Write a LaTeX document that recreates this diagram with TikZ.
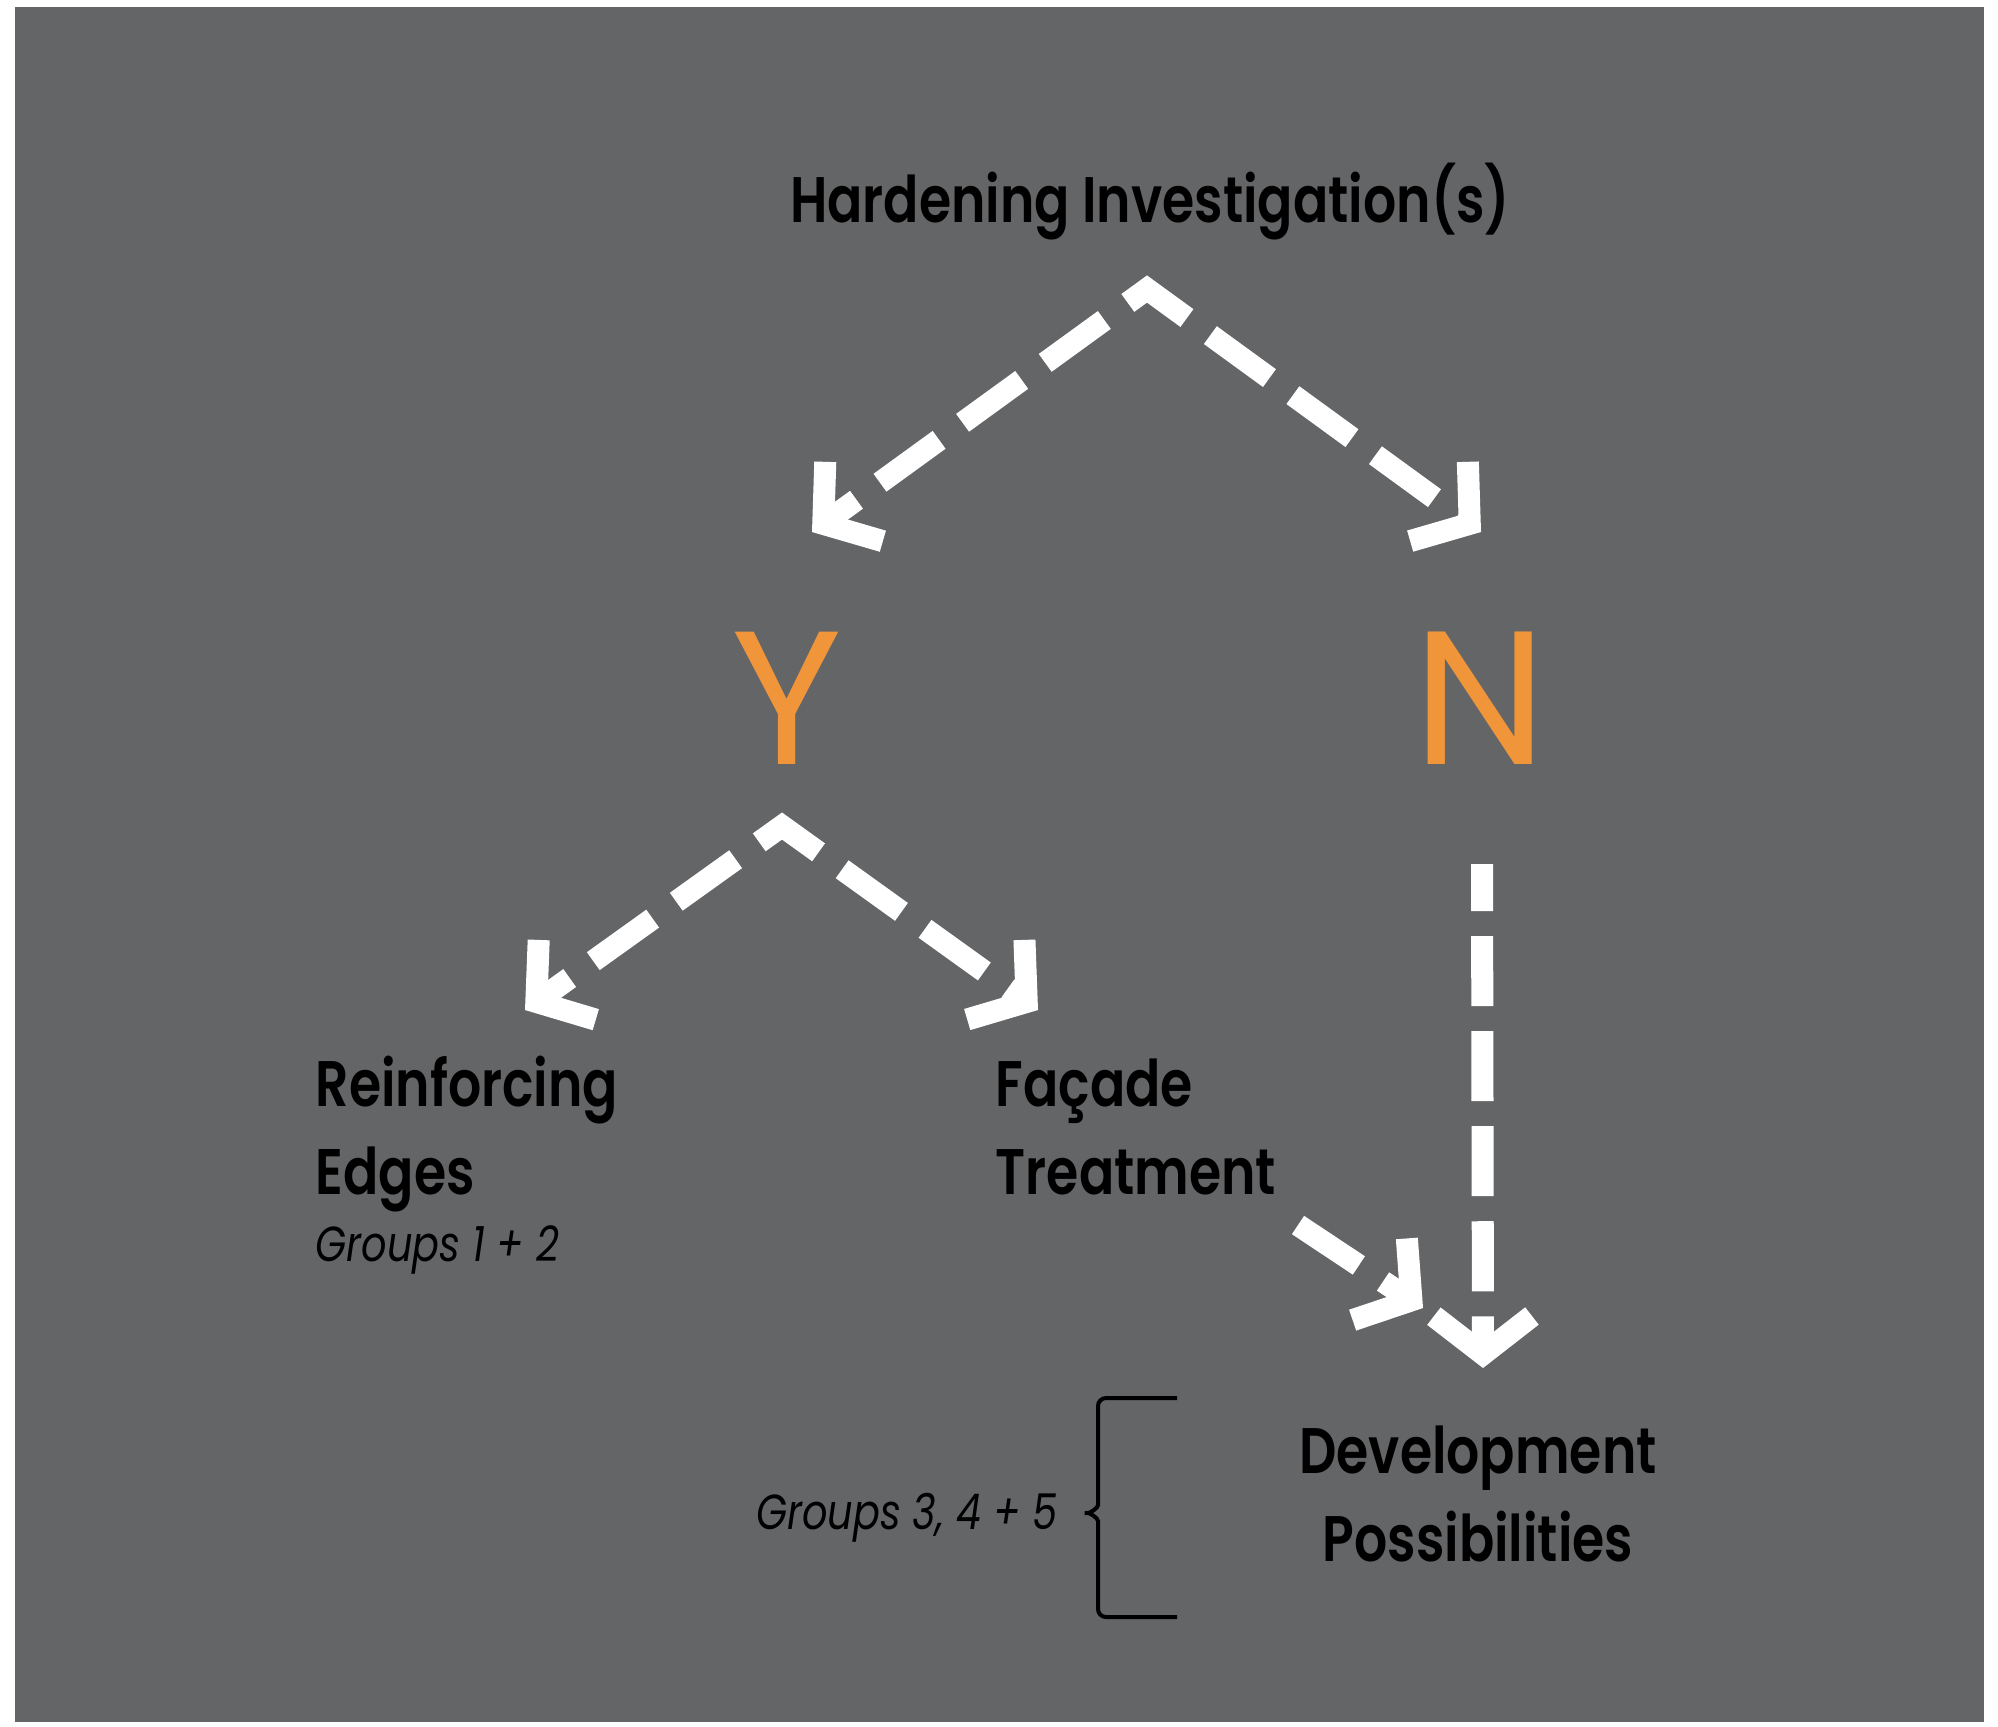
\documentclass[tikz,border=0pt]{standalone}
\usepackage{fontspec}
\setmainfont{Poppins}[FakeStretch=0.81, BoldFont={Poppins SemiBold}]
\newfontfamily\ynfont{Poppins}
\usetikzlibrary{arrows.meta}
\usetikzlibrary{positioning}
\definecolor{slate}{rgb}{0.392, 0.396, 0.404}
\definecolor{ochre}{rgb}{0.941, 0.584, 0.227}
\begin{document}
\begin{tikzpicture}[x=0.01cm,y=-0.01cm,
  lbl/.style={inner sep=0pt, text=black, font=\fontsize{18.3pt}{25pt}\selectfont\bfseries},
  yn/.style={inner sep=0pt, text=ochre, font=\fontsize{54pt}{54pt}\selectfont\ynfont},
  grp/.style={inner sep=0pt, text=black, font=\fontsize{14pt}{16pt}\selectfont\itshape},
  flow/.style={draw=white, line width=0.22cm, line cap=butt, line join=miter,
    dash pattern=on 0.73cm off 0.29cm},
  tipper/.style={-{Straight Barb[length=0.38cm, width=0.98cm]}},
  twotip/.style={{Straight Barb[length=0.38cm, width=0.98cm]}-{Straight Barb[length=0.38cm, width=0.98cm]}},
  brace/.style={draw=black, line width=0.04cm, rounded corners=0.08cm}]
\fill[white] (0,0) rectangle (1998,1726);
\fill[slate] (15,7) rectangle (1984,1722);
\useasboundingbox (0,0) rectangle (1998,1726);
\node[lbl, anchor=base] (hard) at (1150,222) {Hardening Investigation(s)};
\node[yn, anchor=base] (yes) at (787,764) {Y};
\node[yn, anchor=base] (no) at (1480,764) {N};
\node[lbl, anchor=base west, align=left] (reinf) at (315,1194) {Reinforcing\\Edges};
\node[grp, anchor=base west] (grpA) at (315,1261) {Groups 1 + 2};
\node[lbl, anchor=base west, align=left] (facade) at (995,1194) {Façade\\Treatment};
\node[lbl, anchor=base, align=center] (devel) at (1478,1561) {Development\\Possibilities};
\node[grp, anchor=base east] (grpB) at (1058,1529) {Groups 3, 4 + 5};
\draw[flow, twotip, dash phase=0.43cm]
  ([shift={(25,-232)}]yes.base) -- ([shift={(-3,67)}]hard.base) -- ([shift={(1,-232)}]no.base);
\draw[flow, twotip, dash phase=0.43cm]
  ([shift={(210,-184)}]reinf.base west) -- ([shift={(-5,62)}]yes.base) -- ([shift={(43,-184)}]facade.base west);
\draw[flow, tipper] ([shift={(303,31)}]facade.base west) -- ([shift={(-55,-253)}]devel.base);
\draw[flow, tipper, dash pattern=on 0.70cm off 0.25cm, dash phase=0.23cm]
  ([shift={(2,100)}]no.base) -- ([shift={(5,-193)}]devel.base);
\draw[brace] (1177,1398) -- (1098,1398) -- (1098,1497)
  .. controls (1098,1508) and (1090,1513) .. (1080,1513)
  .. controls (1090,1513) and (1098,1518) .. (1098,1529) -- (1098,1617) -- (1177,1617);
\end{tikzpicture}
\end{document}
